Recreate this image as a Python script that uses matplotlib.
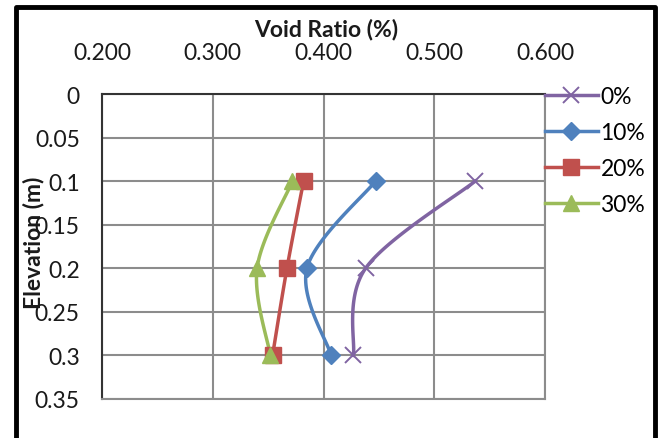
import numpy as np
import matplotlib
matplotlib.use("Agg")
import matplotlib.pyplot as plt
from matplotlib.lines import Line2D

# Elevation (m) of each measurement and void ratio per additive content
elevation = [0.1, 0.2, 0.3]
series_labels = ["0%", "10%", "20%", "30%"]
void_0 = [0.537, 0.438, 0.427]
void_10 = [0.447, 0.385, 0.407]
void_20 = [0.382, 0.367, 0.354]
void_30 = [0.372, 0.340, 0.352]

x_ticks = [0.2, 0.3, 0.4, 0.5, 0.6]
x_tick_labels = ["0.200", "0.300", "0.400", "0.500", "0.600"]
y_ticks = [0, 0.05, 0.1, 0.15, 0.2, 0.25, 0.3, 0.35]
y_tick_labels = ["0", "0.05", "0.1", "0.15", "0.2", "0.25", "0.3", "0.35"]

colors = ["#8064A2", "#4F81BD", "#C0504D", "#9BBB59"]
markers = ["x", "D", "s", "^"]
msizes = [12, 9, 11, 11]

plt.rcParams["font.family"] = ["Lato", "DejaVu Sans"]
FS = 16.5

W, H = 662, 439
fig = plt.figure(figsize=(W / 100, H / 100), dpi=100)
ax = fig.add_axes([102 / W, 1 - 400 / H, (545 - 102) / W, (400 - 95) / H])

xlim = (0.2, 0.6)
ylim = (0.35, 0.0)
ax.set_xlim(*xlim)
ax.set_ylim(*ylim)

# pixel extents of the axes, used to smooth curves in screen proportions
ax_w, ax_h = 545 - 102, 400 - 95


def smooth(xs, ys, n=40):
    """Bezier smoothing through the points (Catmull-Rom style control points)."""
    px = (np.asarray(xs) - xlim[0]) / (xlim[1] - xlim[0]) * ax_w
    py = (np.asarray(ys) - ylim[1]) / (ylim[0] - ylim[1]) * ax_h
    pts = np.column_stack([px, py])
    ext = np.vstack([pts[0], pts, pts[-1]])
    out = []
    for i in range(len(pts) - 1):
        p0, p1, p2, p3 = ext[i], ext[i + 1], ext[i + 2], ext[i + 3]
        c1 = p1 + (p2 - p0) / 6.0
        c2 = p2 - (p3 - p1) / 6.0
        t = np.linspace(0, 1, n)[:, None]
        seg = ((1 - t) ** 3) * p1 + 3 * ((1 - t) ** 2) * t * c1 + 3 * (1 - t) * t ** 2 * c2 + t ** 3 * p2
        out.append(seg if i == 0 else seg[1:])
    out = np.vstack(out)
    sx = out[:, 0] / ax_w * (xlim[1] - xlim[0]) + xlim[0]
    sy = out[:, 1] / ax_h * (ylim[0] - ylim[1]) + ylim[1]
    return sx, sy


handles = []
for vals, lab, c, m, ms in zip([void_0, void_10, void_20, void_30], series_labels, colors, markers, msizes):
    sx, sy = smooth(vals, elevation)
    ax.plot(sx, sy, color=c, lw=2.5, zorder=3)
    mew = 1.4 if m == "x" else 1
    ax.plot(vals, elevation, linestyle="none", marker=m, markersize=ms, color=c,
            markeredgecolor=c, markeredgewidth=mew, zorder=4)
    handles.append(Line2D([], [], color=c, lw=2.5, marker=m, markersize=ms,
                          markeredgewidth=mew, markeredgecolor=c, label=lab))

ax.set_xticks(x_ticks)
ax.set_xticklabels(x_tick_labels)
ax.set_yticks(y_ticks)
ax.set_yticklabels(y_tick_labels)
ax.xaxis.tick_top()
ax.tick_params(axis="both", length=0, labelsize=FS, colors="#1a1a1a")
ax.tick_params(axis="x", pad=22)
ax.tick_params(axis="y", pad=16)
ax.grid(True, color="#8c8c8c", lw=1.5)
ax.set_axisbelow(True)
for s in ["top", "left"]:
    ax.spines[s].set_color("#333333")
    ax.spines[s].set_linewidth(1.5)
for s in ["bottom", "right"]:
    ax.spines[s].set_color("#8c8c8c")
    ax.spines[s].set_linewidth(1.5)

fig.text(326 / W, 1 - 30 / H, "Void Ratio (%)", ha="center", va="center",
         fontsize=FS, fontweight="bold", color="#1a1a1a")
fig.text(34 / W, 1 - 243 / H, "Elevation (m)", ha="center", va="center",
         rotation=90, fontsize=FS, fontweight="bold", color="#1a1a1a")

ax.legend(handles=handles, loc="upper left", bbox_to_anchor=(1.0, 1.026),
          frameon=False, fontsize=FS, handlelength=2.3, handletextpad=0.12,
          labelspacing=0.66, borderpad=0, borderaxespad=0)

# outer chart border (open at the bottom)
border = Line2D([15.5 / W, 15.5 / W, 654.5 / W, 654.5 / W],
                [0, 1 - 7.5 / H, 1 - 7.5 / H, 0],
                transform=fig.transFigure, color="black", lw=3.5)
fig.add_artist(border)

fig.savefig("out.png", dpi=100)
